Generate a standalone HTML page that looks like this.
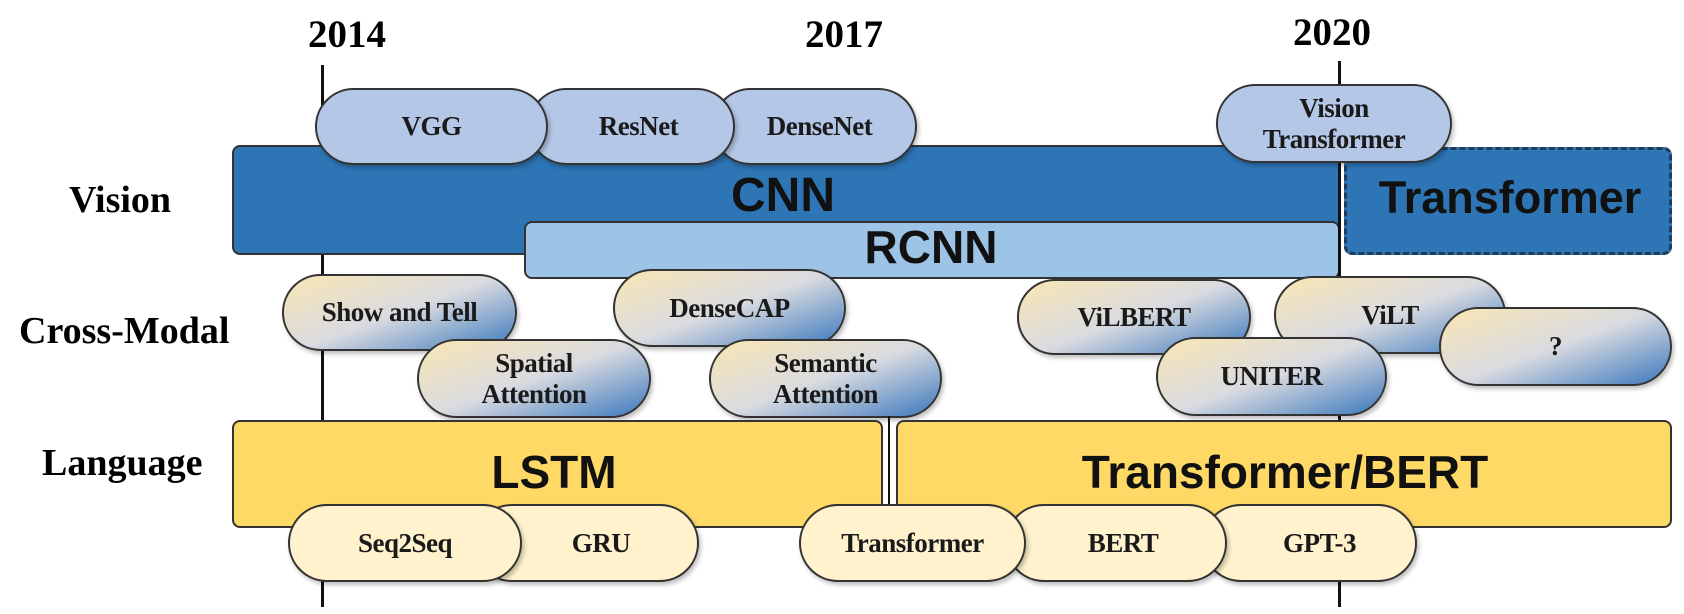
<!DOCTYPE html>
<html><head><meta charset="utf-8"><style>
body{margin:0;width:1684px;height:614px;background:#fff;position:relative;overflow:hidden;font-family:"Liberation Serif",serif}
.a{position:absolute;box-sizing:border-box}
.yr{font-weight:bold;font-size:39px;text-align:center;width:140px;line-height:40px}
.lbl{font-weight:bold;font-size:38px;line-height:44px}
.vl{background:#111;width:3px}
.bar{border:2px solid #333;border-radius:8px}
.bt{position:absolute;font-family:"Liberation Sans",sans-serif;font-weight:bold;color:#111;line-height:50px;text-align:center;width:600px;transform:translate(-50%,-50%)}
.pill{border:2px solid #333;border-radius:40px;display:flex;justify-content:center;align-items:center;text-align:center;font-weight:bold;font-size:27px;line-height:1.12;color:#1a1a1a;box-shadow:2px 3px 4px rgba(0,0,0,.25);letter-spacing:-0.5px}
.v{background:#b4c7e7}
.c{background:linear-gradient(160deg,#f9e6b3 0%,#dadbe0 50%,#3a78bd 100%)}
.l{background:#fff2cc}
</style></head><body>
<div class="a yr" style="left:277px;top:15px">2014</div>
<div class="a yr" style="left:774px;top:15px">2017</div>
<div class="a yr" style="left:1262px;top:13px">2020</div>
<div class="a vl" style="left:321px;top:65px;height:542px"></div>
<div class="a vl" style="left:1338px;top:61px;height:546px"></div>

<div class="a lbl" style="left:69px;top:178px">Vision</div>
<div class="a lbl" style="left:19px;top:309px">Cross-Modal</div>
<div class="a lbl" style="left:42px;top:441px">Language</div>

<div class="a bar" style="left:232px;top:145px;width:1108px;height:110px;background:#2e75b6"></div>
<div class="a bar" style="left:524px;top:221px;width:816px;height:58px;background:#9dc3e6"></div>
<div class="bt" style="left:783px;top:196px;font-size:48px">CNN</div>
<div class="bt" style="left:931px;top:247px;font-size:46px">RCNN</div>
<div class="a bar" style="left:1344px;top:147px;width:328px;height:108px;background:#2e75b6;border:3px dashed #1f3c5c"></div>
<div class="bt" style="left:1510px;top:198px;font-size:45px">Transformer</div>
<div class="a vl" style="left:1338px;top:145px;height:134px"></div>

<div class="a pill v" style="left:712px;top:88px;width:205px;height:77px;padding-left:10px">DenseNet</div>
<div class="a pill v" style="left:528px;top:88px;width:207px;height:77px;padding-left:14px">ResNet</div>
<div class="a pill v" style="left:315px;top:88px;width:233px;height:77px">VGG</div>
<div class="a pill v" style="left:1216px;top:84px;width:236px;height:79px">Vision<br>Transformer</div>

<div class="a pill c" style="left:282px;top:274px;width:235px;height:77px">Show and Tell</div>
<div class="a pill c" style="left:613px;top:269px;width:233px;height:78px">DenseCAP</div>
<div class="a pill c" style="left:417px;top:339px;width:234px;height:79px">Spatial<br>Attention</div>
<div class="a pill c" style="left:709px;top:339px;width:233px;height:79px">Semantic<br>Attention</div>
<div class="a pill c" style="left:1017px;top:279px;width:234px;height:76px">ViLBERT</div>
<div class="a pill c" style="left:1274px;top:276px;width:232px;height:78px">ViLT</div>
<div class="a pill c" style="left:1156px;top:337px;width:231px;height:79px">UNITER</div>
<div class="a pill c" style="left:1439px;top:307px;width:233px;height:79px">?</div>

<div class="a vl" style="left:888px;top:416px;height:90px;width:2px"></div>
<div class="a bar" style="left:232px;top:420px;width:651px;height:108px;background:#ffd966"></div>
<div class="a bar" style="left:896px;top:420px;width:776px;height:108px;background:#ffd966"></div>
<div class="bt" style="left:554px;top:472px;font-size:46px">LSTM</div>
<div class="bt" style="left:1285px;top:472px;font-size:46px">Transformer/BERT</div>

<div class="a pill l" style="left:473px;top:504px;width:226px;height:78px;padding-left:30px">GRU</div>
<div class="a pill l" style="left:288px;top:504px;width:234px;height:78px">Seq2Seq</div>
<div class="a pill l" style="left:1202px;top:504px;width:215px;height:78px;padding-left:20px">GPT-3</div>
<div class="a pill l" style="left:1005px;top:504px;width:222px;height:78px;padding-left:14px">BERT</div>
<div class="a pill l" style="left:799px;top:504px;width:227px;height:78px">Transformer</div>
</body></html>
